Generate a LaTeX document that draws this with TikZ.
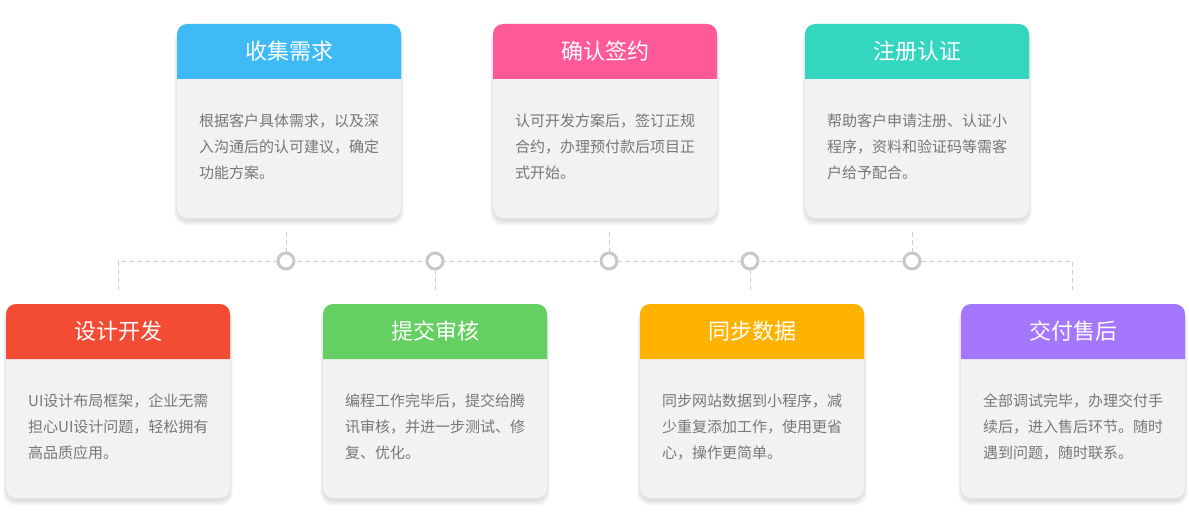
\documentclass[tikz,border=0pt]{standalone}
\usepackage{fontspec}
\setmainfont{Noto Sans CJK SC}
\definecolor{cblue}{HTML}{3EBAF6}
\definecolor{cpink}{HTML}{FF5A97}
\definecolor{cteal}{HTML}{35D6C0}
\definecolor{cred}{HTML}{F24C35}
\definecolor{cgreen}{HTML}{66CF62}
\definecolor{corange}{HTML}{FFB300}
\definecolor{cpurple}{HTML}{A576FE}
\definecolor{bodygray}{HTML}{F2F2F2}
\definecolor{bodytxt}{HTML}{777777}
\definecolor{linegray}{HTML}{CCCCCC}
\definecolor{dotgray}{HTML}{C8C8C8}
\tikzset{
  cardbody/.style={fill=bodygray, rounded corners=10pt, minimum width=224pt, minimum height=194pt, inner sep=0pt, draw=none, anchor=north west},
  titletext/.style={text=white, font=\fontsize{22}{24}\selectfont, inner sep=0pt},
  bodytext/.style={text=bodytxt, font=\fontsize{15}{26}\selectfont, align=left, inner sep=0pt, anchor=north west},
  dot/.style={circle, draw=dotgray, line width=3pt, fill=white, minimum size=16pt, inner sep=0pt},
  link/.style={draw=linegray, line width=1pt, dash pattern=on 5pt off 3pt},
}
\newcommand\mkcard[6]{%
  \begin{scope}[shift={(#2)}]
    \foreach \s in {0,1,...,7}{
      \fill[black, opacity=0.016, rounded corners=12pt] (-\s*0.4, 3+\s*0.2) rectangle (224+\s*0.4, 197+\s*0.7);
    }
    \node[cardbody] (#1) at (0,0) {};
    \fill[#3] (0,55) [rounded corners=10pt] -- (0,0) -- (224,0) [sharp corners] -- (224,55) -- cycle;
    \node[titletext] (#1t) at (112,27.5) {#4};
    \node[bodytext] (#1b) at (22,90) {#5};
  \end{scope}
}
\begin{document}
\begin{tikzpicture}[x=1pt,y=-1pt]
  \useasboundingbox (0,0) rectangle (1189,519);
  \fill[white] (0,0) rectangle (1189,519);
  \mkcard{k1}{177,24}{cblue}{收集需求}{根据客户具体需求，以及深\\入沟通后的认可建议，确定\\功能方案。}{}
  \mkcard{k2}{493,24}{cpink}{确认签约}{认可开发方案后，签订正规\\合约，办理预付款后项目正\\式开始。}{}
  \mkcard{k3}{805,24}{cteal}{注册认证}{帮助客户申请注册、认证小\\程序，资料和验证码等需客\\户给予配合。}{}
  \mkcard{k4}{6,304}{cred}{设计开发}{UI设计布局框架，企业无需\\担心UI设计问题，轻松拥有\\高品质应用。}{}
  \mkcard{k5}{323,304}{cgreen}{提交审核}{编程工作完毕后，提交给腾\\讯审核，并进一步测试、修\\复、优化。}{}
  \mkcard{k6}{640,304}{corange}{同步数据}{同步网站数据到小程序，减\\少重复添加工作，使用更省\\心，操作更简单。}{}
  \mkcard{k7}{961,304}{cpurple}{交付售后}{全部调试完毕，办理交付手\\续后，进入售后环节。随时\\遇到问题，随时联系。}{}
  % timeline
  \coordinate (L) at (118,261);
  \coordinate (Lb) at (118,290);
  \coordinate (R) at (1072,261);
  \coordinate (Rb) at (1072,290);
  \path (286,261) coordinate (p1) (435,261) coordinate (p2) (609,261) coordinate (p3)
        (750,261) coordinate (p4) (912,261) coordinate (p5);
  \draw[link] (Lb) -- (L) -- (R) -- (Rb);
  \draw[link] ([yshift=-14pt]k1.south -| p1) -- (p1);
  \draw[link] ([yshift=-14pt]k2.south -| p3) -- (p3);
  \draw[link] ([yshift=-14pt]k3.south -| p5) -- (p5);
  \draw[link] (p2) -- ([yshift=14pt]k5.north -| p2);
  \draw[link] (p4) -- ([yshift=14pt]k6.north -| p4);
  \node[dot] (c1) at (p1) {};
  \node[dot] (c2) at (p2) {};
  \node[dot] (c3) at (p3) {};
  \node[dot] (c4) at (p4) {};
  \node[dot] (c5) at (p5) {};
\end{tikzpicture}
\end{document}
